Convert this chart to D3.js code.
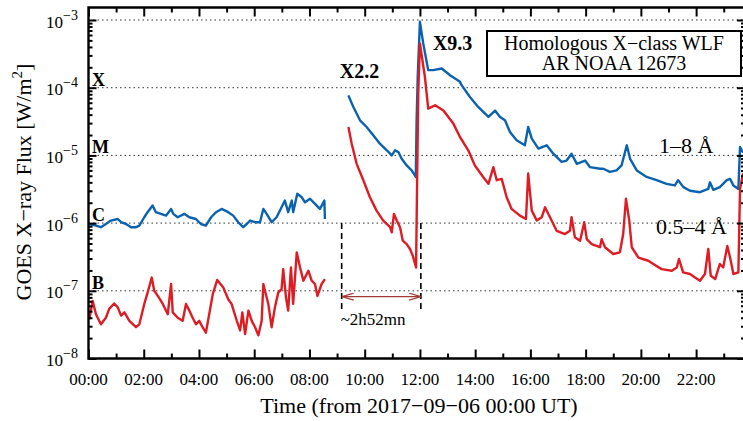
<!DOCTYPE html>
<html>
<head>
<meta charset="utf-8">
<script src="https://cdn.jsdelivr.net/npm/d3@7"></script>
<style>
  body { margin: 0; background: #fff; }
  text { font-family: "Liberation Serif", "Times New Roman", serif; fill: #000; }
</style>
</head>
<body>
<svg id="chart" width="743" height="421"></svg>
<script>
// GOES X-ray flux, 2017-09-06 (hours from 00:00 UT, W/m^2)
var blueEarly = [[0.03,9.7e-7],[0.27,9.2e-7],[0.45,8.7e-7],[0.63,9.7e-7],[0.81,1.09e-6],[1.06,1.15e-6],[1.18,1.03e-6],[1.36,9.7e-7],[1.54,8.7e-7],[1.72,8.7e-7],[1.84,9.2e-7],[2.02,1.22e-6],[2.14,1.45e-6],[2.32,1.82e-6],[2.44,1.45e-6],[2.62,1.37e-6],[2.81,1.29e-6],[2.99,1.62e-6],[3.07,1.37e-6],[3.23,1.22e-6],[3.47,1.37e-6],[3.65,1.22e-6],[3.89,1.15e-6],[4.07,9.7e-7],[4.25,9.2e-7],[4.44,1.22e-6],[4.62,1.45e-6],[4.82,1.62e-6],[5.06,1.45e-6],[5.24,1.29e-6],[5.42,1.03e-6],[5.60,8.7e-7],[5.73,9.7e-7],[5.85,1.09e-6],[6.03,1.03e-6],[6.21,1.03e-6],[6.33,1.62e-6],[6.45,1.37e-6],[6.63,1.03e-6],[6.81,1.22e-6],[6.99,1.71e-6],[7.11,2.15e-6],[7.23,1.45e-6],[7.36,2.15e-6],[7.41,1.45e-6],[7.56,2.71e-6],[7.72,2.41e-6],[7.84,2.03e-6],[8.02,2.29e-6],[8.20,1.92e-6],[8.38,1.62e-6],[8.54,2.15e-6],[8.56,1.15e-6]];

var redEarly = [[0.03,3.8e-8],[0.15,7.1e-8],[0.27,4.5e-8],[0.45,3.2e-8],[0.63,4.0e-8],[0.75,5.4e-8],[0.93,6.5e-8],[1.06,5.7e-8],[1.18,4.3e-8],[1.30,4.8e-8],[1.48,3.6e-8],[1.72,2.9e-8],[1.84,3.2e-8],[2.02,6.4e-8],[2.14,9.4e-8],[2.29,1.57e-7],[2.38,1.0e-7],[2.51,8.4e-8],[2.69,6.4e-8],[2.87,4.5e-8],[2.99,1.26e-7],[3.05,4.8e-8],[3.23,4.0e-8],[3.41,3.6e-8],[3.53,6.4e-8],[3.65,5.1e-8],[3.77,4.0e-8],[3.89,3.2e-8],[4.01,3.6e-8],[4.13,2.9e-8],[4.25,2.4e-8],[4.37,4.5e-8],[4.50,8.9e-8],[4.66,1.45e-7],[4.88,1.12e-7],[5.06,7.5e-8],[5.18,6.4e-8],[5.37,3.6e-8],[5.49,2.6e-8],[5.57,4.8e-8],[5.67,2.3e-8],[5.79,5.1e-8],[5.91,3.6e-8],[6.03,2.9e-8],[6.15,2.2e-8],[6.27,3.6e-8],[6.33,1.26e-7],[6.51,6.4e-8],[6.63,2.9e-8],[6.75,5.7e-8],[6.87,9.4e-8],[6.99,1.06e-7],[7.05,2.09e-7],[7.15,8.0e-8],[7.23,5.1e-8],[7.33,2.21e-7],[7.41,6.4e-8],[7.54,3.69e-7],[7.66,2.21e-7],[7.78,1.41e-7],[7.96,1.98e-7],[8.08,1.41e-7],[8.20,1.26e-7],[8.29,8.4e-8],[8.44,1.26e-7],[8.56,1.49e-7]];

var blueLate = [[9.41,7.7e-5],[9.59,5.2e-5],[9.83,3.3e-5],[10.07,2.63e-5],[10.31,1.98e-5],[10.55,1.49e-5],[10.80,1.19e-5],[10.98,1.0e-5],[11.10,1.19e-5],[11.22,1.12e-5],[11.34,8.9e-6],[11.52,7.1e-6],[11.70,6.0e-6],[11.85,4.8e-6],[11.88,3.3e-5],[11.92,1.45e-4],[12.00,9.4e-4],[12.12,4.5e-4],[12.30,1.82e-4],[12.48,1.82e-4],[12.79,1.92e-4],[13.09,1.53e-4],[13.45,1.22e-4],[13.51,1.09e-4],[13.81,7.3e-5],[14.11,5.2e-5],[14.48,3.7e-5],[14.72,4.6e-5],[14.90,3.7e-5],[15.08,3.3e-5],[15.26,2.21e-5],[15.50,1.67e-5],[15.80,1.41e-5],[15.92,2.63e-5],[16.05,1.77e-5],[16.29,1.26e-5],[16.59,1.41e-5],[16.83,1.06e-5],[17.13,8.0e-6],[17.31,8.4e-6],[17.49,1.06e-5],[17.68,7.5e-6],[17.98,8.4e-6],[18.16,6.7e-6],[18.52,6.35e-6],[18.64,6.35e-6],[18.88,5.7e-6],[19.12,6.0e-6],[19.30,7.1e-6],[19.49,1.41e-5],[19.61,8.9e-6],[19.85,6.0e-6],[20.21,4.8e-6],[20.57,4.3e-6],[20.93,3.8e-6],[21.23,3.6e-6],[21.35,4.3e-6],[21.54,3.4e-6],[21.78,3.0e-6],[22.14,2.86e-6],[22.44,3.2e-6],[22.50,4.0e-6],[22.62,3.1e-6],[22.86,3.4e-6],[23.11,4.3e-6],[23.23,4.5e-6],[23.35,3.6e-6],[23.53,3.2e-6],[23.59,1.33e-5],[23.70,1.1e-5]];

var redLate = [[9.41,2.63e-5],[9.53,1.49e-5],[9.71,7.5e-6],[9.95,4.3e-6],[10.19,2.41e-6],[10.43,1.53e-6],[10.67,1.09e-6],[10.92,8.7e-7],[10.98,7.3e-7],[11.06,1.37e-6],[11.16,1.09e-6],[11.28,8.7e-7],[11.38,5.5e-7],[11.52,4.9e-7],[11.64,4.15e-7],[11.74,3.3e-7],[11.86,2.21e-7],[11.90,4.8e-6],[11.94,8.2e-5],[12.00,4.5e-4],[12.18,1.45e-4],[12.30,4.9e-5],[12.55,5.5e-5],[12.85,4.6e-5],[13.21,2.95e-5],[13.45,1.87e-5],[13.75,1.19e-5],[13.99,7.1e-6],[14.29,4.8e-6],[14.48,3.8e-6],[14.66,6.7e-6],[14.78,4.3e-6],[14.96,4.5e-6],[15.14,2.41e-6],[15.32,1.62e-6],[15.62,1.29e-6],[15.84,1.15e-6],[15.92,5.4e-6],[16.05,1.53e-6],[16.23,1.09e-6],[16.41,1.22e-6],[16.53,1.71e-6],[16.71,1.22e-6],[16.95,7.7e-7],[17.25,6.9e-7],[17.43,7.7e-7],[17.49,1.22e-6],[17.61,6.2e-7],[17.80,5.5e-7],[17.95,1.03e-6],[18.04,5.8e-7],[18.22,4.9e-7],[18.52,4.4e-7],[18.58,5.8e-7],[18.70,4.4e-7],[19.00,3.5e-7],[19.24,3.7e-7],[19.36,6.9e-7],[19.46,2.29e-6],[19.58,1.09e-6],[19.67,4.4e-7],[19.91,3.1e-7],[20.27,2.78e-7],[20.45,2.49e-7],[20.75,2.09e-7],[21.12,1.98e-7],[21.30,2.21e-7],[21.38,2.95e-7],[21.53,1.87e-7],[21.78,1.77e-7],[21.96,1.57e-7],[22.14,1.41e-7],[22.32,1.77e-7],[22.44,4.15e-7],[22.53,1.67e-7],[22.69,1.49e-7],[22.86,2.49e-7],[22.98,2.21e-7],[23.13,4.6e-7],[23.23,3.1e-7],[23.35,1.77e-7],[23.53,1.87e-7],[23.59,3.2e-6],[23.70,5.5e-6]];

var hourLabels = ["00:00","02:00","04:00","06:00","08:00","10:00","12:00","14:00","16:00","18:00","20:00","22:00"];
var decades = [1e-8, 1e-7, 1e-6, 1e-5, 1e-4, 1e-3];
var decadeExp = ["\u22128","\u22127","\u22126","\u22125","\u22124","\u22123"];
var classLetters = ["B","C","M","X"];
var classLevels = [1e-7, 1e-6, 1e-5, 1e-4];
// X2.2 peak and X9.3 peak (hours)
var peakTimes = [9 + 10/60, 12 + 2/60];

var svg = d3.select("#chart");
var blueColor = "#0b62ae", redColor = "#dd1c24";

var x = d3.scaleLinear().domain([0, 23.77]).range([88.5, 745]),
    y = d3.scaleLog().domain([1e-8, 1.53e-3]).range([358.5, 7.5]);

svg.append("clipPath").attr("id", "plotclip")
  .append("rect")
    .attr("x", x.range()[0]).attr("y", y.range()[1])
    .attr("width", x.range()[1] - x.range()[0])
    .attr("height", y.range()[0] - y.range()[1]);

// Dotted class lines
svg.append("g").selectAll("line")
  .data(decades.slice(1))
  .enter().append("line")
    .attr("x1", x.range()[0]).attr("x2", x.range()[1])
    .attr("y1", function(d) {return y(d);})
    .attr("y2", function(d) {return y(d);})
    .attr("stroke", "#333")
    .attr("stroke-width", 1)
    .attr("stroke-dasharray", "1.5,3");

// Flux curves
var line = d3.line()
  .x(function(d) {return x(d[0]);})
  .y(function(d) {return y(d[1]);});

var curves = svg.append("g").attr("clip-path", "url(#plotclip)");
[[blueEarly, blueColor], [blueLate, blueColor], [redEarly, redColor], [redLate, redColor]]
  .forEach(function(s) {
    curves.append("path")
      .datum(s[0])
      .attr("d", line)
      .attr("fill", "none")
      .attr("stroke", s[1])
      .attr("stroke-width", 2.4)
      .attr("stroke-linejoin", "round");
  });

// Frame
var frame = svg.append("g").attr("stroke", "#000").attr("stroke-width", 2.4).attr("fill", "none");
frame.append("path")
  .attr("d", "M" + x.range()[1] + "," + y.range()[1] + "H" + x.range()[0] + "V" + y.range()[0] + "H" + x.range()[1] + "V" + y.range()[1]);

// Hour ticks (bottom and top, pointing inward)
var hours = d3.range(0, 24);
function hourTicks(axisFn, yPos) {
  var g = svg.append("g").attr("transform", "translate(0," + yPos + ")");
  g.call(axisFn(x).tickValues(hours.filter(function(h) {return h % 2 === 1;})).tickSize(5).tickFormat(""));
  g.call(axisFn(x).tickValues(hours.filter(function(h) {return h % 2 === 0;})).tickSize(9).tickFormat(""));
  g.select(".domain").remove();
  g.selectAll("line").attr("stroke", "#000").attr("stroke-width", 2);
}
svg.append("g");
(function() {
  var gb = svg.append("g").attr("transform", "translate(0," + y.range()[0] + ")");
  gb.append("g").call(d3.axisTop(x).tickValues(hours.filter(function(h) {return h % 2;})).tickSize(5).tickFormat(""));
  gb.append("g").call(d3.axisTop(x).tickValues(hours.filter(function(h) {return !(h % 2);})).tickSize(9).tickFormat(""));
  var gt = svg.append("g").attr("transform", "translate(0," + y.range()[1] + ")");
  gt.append("g").call(d3.axisBottom(x).tickValues(hours.filter(function(h) {return h % 2;})).tickSize(5).tickFormat(""));
  gt.append("g").call(d3.axisBottom(x).tickValues(hours.filter(function(h) {return !(h % 2);})).tickSize(9).tickFormat(""));
  // Log ticks left and right
  var minor = [];
  decades.forEach(function(d) {
    for (var k = 2; k <= 9; k++) { if (d * k < y.domain()[1]) minor.push(d * k); }
  });
  var gl = svg.append("g").attr("transform", "translate(" + x.range()[0] + ",0)");
  gl.append("g").call(d3.axisRight(y).tickValues(minor).tickSize(4).tickFormat(""));
  gl.append("g").call(d3.axisRight(y).tickValues(decades).tickSize(8).tickFormat(""));
  var gr = svg.append("g").attr("transform", "translate(" + x.range()[1] + ",0)");
  gr.append("g").call(d3.axisLeft(y).tickValues(minor).tickSize(4).tickFormat(""));
  gr.append("g").call(d3.axisLeft(y).tickValues(decades).tickSize(8).tickFormat(""));
  [gb, gt, gl, gr].forEach(function(g) {
    g.selectAll(".domain").remove();
    g.selectAll("line").attr("stroke", "#000").attr("stroke-width", 2);
  });
})();

// Tick labels
svg.append("g").selectAll("text")
  .data(hourLabels)
  .enter().append("text")
    .attr("x", function(d, i) {return x(i * 2);})
    .attr("y", 385)
    .attr("text-anchor", "middle")
    .style("font-size", "17px")
    .text(function(d) {return d;});

var ylab = svg.append("g").selectAll("text")
  .data(decades)
  .enter().append("text")
    .attr("x", 78)
    .attr("y", function(d) {return y(d) + 7.5;})
    .attr("text-anchor", "end")
    .style("font-size", "17px");
ylab.append("tspan").text("10");
ylab.append("tspan")
  .attr("dy", -8)
  .style("font-size", "14px")
  .text(function(d, i) {return decadeExp[i];});

// Axis titles
svg.append("text")
  .attr("x", 419).attr("y", 413)
  .attr("text-anchor", "middle")
  .style("font-size", "22px")
  .text("Time (from 2017\u221209\u221206 00:00 UT)");

var yt = svg.append("text")
  .attr("transform", "translate(31,182) rotate(-90)")
  .attr("text-anchor", "middle")
  .style("font-size", "22px");
yt.append("tspan").text("GOES X\u2212ray Flux [W/m");
yt.append("tspan").attr("dy", -9).style("font-size", "15px").text("2");
yt.append("tspan").attr("dy", 9).text("]");

// GOES class letters
svg.append("g").selectAll("text")
  .data(classLetters)
  .enter().append("text")
    .attr("x", 92)
    .attr("y", function(d, i) {return y(classLevels[i]) - 2;})
    .style("font-size", "18px")
    .style("font-weight", "bold")
    .text(function(d) {return d;});

// Flare labels
svg.append("text").attr("x", x(9.1)).attr("y", y(1.4e-4))
  .style("font-size", "20px").style("font-weight", "bold").text("X2.2");
svg.append("text").attr("x", x(12.47)).attr("y", y(3.6e-4))
  .style("font-size", "20px").style("font-weight", "bold").text("X9.3");

// Title box
svg.append("rect")
  .attr("x", 487).attr("y", 31).attr("width", 254).attr("height", 45)
  .attr("fill", "#fff").attr("stroke", "#000").attr("stroke-width", 2);
svg.append("text").attr("x", 614).attr("y", 50).attr("text-anchor", "middle")
  .style("font-size", "20px").text("Homologous X\u2212class WLF");
svg.append("text").attr("x", 614).attr("y", 70).attr("text-anchor", "middle")
  .style("font-size", "20px").text("AR NOAA 12673");

// Channel labels
svg.append("text").attr("x", 659).attr("y", y(1e-5) - 2)
  .style("font-size", "22px").text("1\u20138 \u00c5");
svg.append("text").attr("x", 656).attr("y", y(1e-6) + 10.5)
  .style("font-size", "22px").text("0.5\u20134 \u00c5");

// Waiting time between the two flares
svg.append("g").selectAll("line")
  .data(peakTimes)
  .enter().append("line")
    .attr("x1", function(d) {return x(d);}).attr("x2", function(d) {return x(d);})
    .attr("y1", y(1e-6)).attr("y2", y(5.2e-8))
    .attr("stroke", "#000").attr("stroke-width", 1.6)
    .attr("stroke-dasharray", "6,4");

svg.append("defs").append("marker")
  .attr("id", "ahead")
  .attr("viewBox", "0 0 12 8")
  .attr("refX", 12).attr("refY", 4)
  .attr("markerWidth", 12).attr("markerHeight", 8)
  .attr("markerUnits", "userSpaceOnUse")
  .attr("orient", "auto-start-reverse")
  .append("path")
    .attr("d", "M0,0.5L12,4L0,7.5")
    .attr("fill", "none")
    .attr("stroke", "#a33a36")
    .attr("stroke-width", 1.2);

svg.append("line")
  .attr("x1", x(peakTimes[0])).attr("x2", x(peakTimes[1]))
  .attr("y1", y(8.2e-8)).attr("y2", y(8.2e-8))
  .attr("stroke", "#a33a36").attr("stroke-width", 1.2)
  .attr("marker-start", "url(#ahead)")
  .attr("marker-end", "url(#ahead)");

svg.append("text").attr("x", x(peakTimes[0]) - 1).attr("y", y(3.1e-8))
  .style("font-size", "17px").text("~2h52mn");
</script>
</body>
</html>
